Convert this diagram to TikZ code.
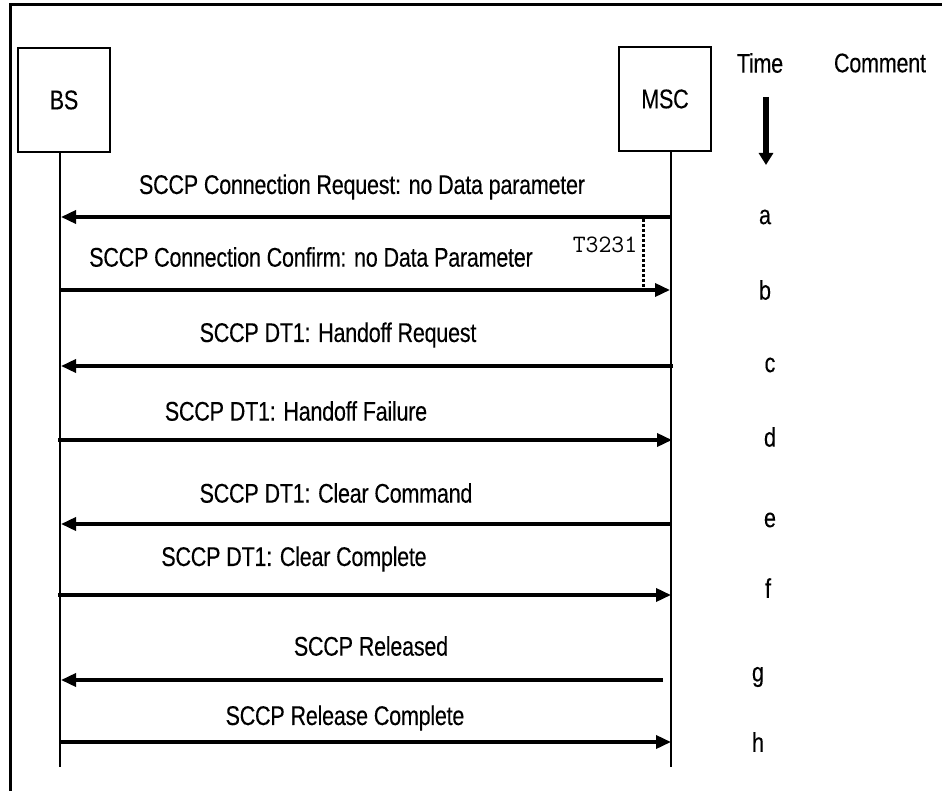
\documentclass[tikz,border=0pt]{standalone}
\usepackage{fontspec}
\setmainfont{Liberation Sans}[FakeStretch=0.8, LetterSpace=-1, FakeBold=0.15]
\usetikzlibrary{arrows.meta}
\begin{document}
\begin{tikzpicture}[x=1pt,y=-1pt,
  txt/.style={font=\fontsize{27}{29}\selectfont, inner sep=0pt, anchor=center},
  entity/.style={draw, line width=2.5pt, minimum width=92pt, minimum height=104pt, inner sep=0pt, font=\fontsize{27}{29}\selectfont},
  lifeline/.style={line width=2.5pt},
  msg/.style={line width=3.5pt, -{Triangle[length=15pt,width=13pt]}},
  letter/.style={font=\fontsize{27}{29}\selectfont, inner sep=0pt, anchor=center}]
\useasboundingbox (0,0) rectangle (942,791);
% frame
\draw[line width=3pt] (10,791) -- (10,5) -- (942,5);
% entities
\node[entity] (bs) at (64,100) {BS};
\node[entity] (msc) at (665,99) {MSC};
\coordinate (bstop) at (60,152);
\coordinate (bsend) at (60,767);
\coordinate (msctop) at (671,151);
\coordinate (mscend) at (671,767);
\draw[lifeline] (bstop) -- (bsend);
\draw[lifeline] (msctop) -- (mscend);
% header
\node[txt] (time) at (760,63) {Time};
\node[txt] (comment) at (880,63) {Comment};
\coordinate (ta) at (766,97);
\coordinate (tb) at (766,165);
\draw[line width=6pt, -{Triangle[length=12pt,width=14pt]}] (ta) -- (tb);
% message coordinates
\coordinate (a1) at (671,217); \coordinate (a2) at (61,217);
\coordinate (b1) at (60,290); \coordinate (b2) at (670,290);
\coordinate (c1) at (673,366); \coordinate (c2) at (61,366);
\coordinate (d1) at (58,440); \coordinate (d2) at (672,440);
\coordinate (e1) at (671,524); \coordinate (e2) at (61,524);
\coordinate (f1) at (58,595); \coordinate (f2) at (671,595);
\coordinate (g1) at (663,680); \coordinate (g2) at (61,680);
\coordinate (h1) at (60,742); \coordinate (h2) at (671,742);
\draw[msg] (a1) -- (a2);
\draw[msg] (b1) -- (b2);
\draw[msg] (c1) -- (c2);
\draw[msg] (d1) -- (d2);
\draw[msg] (e1) -- (e2);
\draw[msg] (f1) -- (f2);
\draw[msg] (g1) -- (g2);
\draw[msg] (h1) -- (h2);
% labels
\node[txt] (la) at (362,187) {SCCP Connection Request: no Data parameter};
\node[txt] (lb) at (311,257) {SCCP Connection Confirm: no Data Parameter};
\node[txt] (lc) at (338,335) {SCCP DT1: Handoff Request};
\node[txt] (ld) at (296,411) {SCCP DT1: Handoff Failure};
\node[txt] (le) at (336,493) {SCCP DT1: Clear Command};
\node[txt] (lf) at (294,559) {SCCP DT1: Clear Complete};
\node[txt] (lg) at (371,646) {SCCP Released};
\node[txt] (lh) at (345,718) {SCCP Release Complete};
% timer
\coordinate (t1) at (643,219);
\coordinate (t2) at (643,289);
\draw[line width=3pt, dash pattern=on 3pt off 2pt] (t1) -- (t2);
\node[inner sep=0pt, font=\ttfamily\fontsize{25}{27}\selectfont] (tmr) at (605,245) {T3231};
% letters
\node[letter] (xa) at (765,217) {a};
\node[letter] (xb) at (765,290) {b};
\node[letter] (xc) at (770,365) {c};
\node[letter] (xd) at (770,437) {d};
\node[letter] (xe) at (770,520) {e};
\node[letter] (xf) at (768,588) {f};
\node[letter] (xg) at (758,677) {g};
\node[letter] (xh) at (758,742) {h};
\end{tikzpicture}
\end{document}
